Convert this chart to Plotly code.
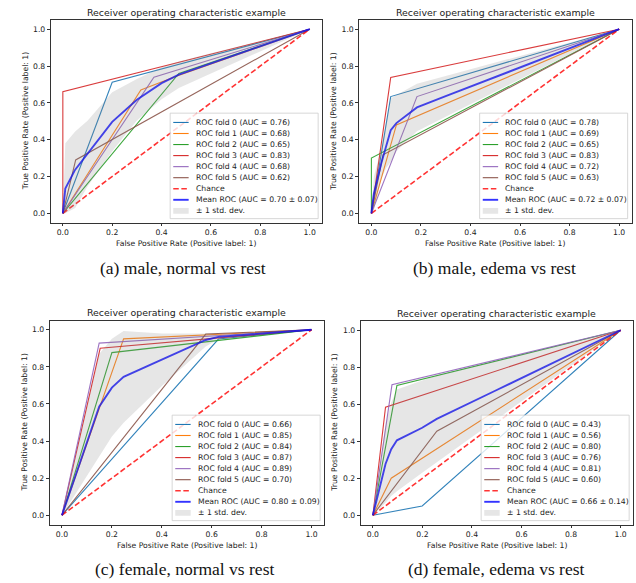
import plotly.graph_objects as go

W, H = 636, 583

# ---------------- data ----------------
fold_names = ["ROC fold 0", "ROC fold 1", "ROC fold 2", "ROC fold 3", "ROC fold 4", "ROC fold 5"]
fold_colors = ["#1f77b4", "#ff7f0e", "#2ca02c", "#d62728", "#9467bd", "#8c564b"]
chance_x = [0, 1]
chance_y = [0, 1]
tick_vals = [0, 0.2, 0.4, 0.6, 0.8, 1.0]
tick_text = ["0.0", "0.2", "0.4", "0.6", "0.8", "1.0"]

# (a) male, normal vs rest
a_fold_fpr = [[0, 0.2, 1], [0, 0.316, 0.46, 1], [0, 0.47, 1], [0, 0, 1], [0, 0.369, 1], [0, 0.052, 1]]
a_fold_tpr = [[0, 0.712, 1], [0, 0.67, 0.745, 1], [0, 0.76, 1], [0, 0.661, 1], [0, 0.739, 1], [0, 0.29, 1]]
a_auc = [0.76, 0.68, 0.65, 0.83, 0.68, 0.62]
a_mean_auc, a_std_auc = 0.70, 0.07
a_grid = [0, 0.01, 0.05, 0.1, 0.2, 0.3, 0.4, 0.47, 0.6, 0.8, 1.0]
a_mean = [0, 0.135, 0.237, 0.324, 0.497, 0.617, 0.707, 0.753, 0.814, 0.907, 1.0]
a_upper = [0, 0.38, 0.445, 0.503, 0.657, 0.73, 0.793, 0.825, 0.869, 0.934, 1.0]
a_lower = [0, 0, 0.029, 0.145, 0.337, 0.504, 0.62, 0.68, 0.759, 0.88, 1.0]

# (b) male, edema vs rest
b_fold_fpr = [[0, 0.078, 1], [0, 0.101, 1], [0, 0, 1], [0, 0.078, 1], [0, 0.184, 1], [0, 0.047, 1]]
b_fold_tpr = [[0, 0.634, 1], [0, 0.48, 1], [0, 0.30, 1], [0, 0.738, 1], [0, 0.634, 1], [0, 0.318, 1]]
b_auc = [0.78, 0.69, 0.65, 0.83, 0.72, 0.63]
b_mean_auc, b_std_auc = 0.72, 0.07
b_grid = [0, 0.01, 0.04, 0.06, 0.078, 0.101, 0.184, 0.3, 0.5, 0.75, 1.0]
b_mean = [0, 0.106, 0.272, 0.37, 0.451, 0.49, 0.575, 0.636, 0.74, 0.87, 1.0]
b_upper = [0, 0.198, 0.355, 0.492, 0.623, 0.643, 0.704, 0.746, 0.819, 0.91, 1.0]
b_lower = [0, 0.014, 0.188, 0.247, 0.279, 0.337, 0.446, 0.525, 0.661, 0.83, 1.0]

# (c) female, normal vs rest
c_fold_fpr = [[0, 0.627, 1], [0, 0.247, 1], [0, 0.2, 1], [0, 0.153, 1], [0, 0.149, 1], [0, 0.576, 1]]
c_fold_tpr = [[0, 0.95, 1], [0, 0.951, 1], [0, 0.877, 1], [0, 0.90, 1], [0, 0.928, 1], [0, 0.977, 1]]
c_auc = [0.66, 0.85, 0.84, 0.87, 0.89, 0.70]
c_mean_auc, c_std_auc = 0.80, 0.09
c_grid = [0, 0.01, 0.05, 0.1, 0.149, 0.2, 0.247, 0.4, 0.576, 0.627, 0.8, 1.0]
c_mean = [0, 0.04, 0.196, 0.393, 0.585, 0.688, 0.746, 0.839, 0.945, 0.962, 0.979, 1.0]
c_upper = [0, 0.058, 0.288, 0.576, 0.87, 0.952, 0.994, 0.98, 0.98, 0.975, 0.985, 1.0]
c_lower = [0, 0.021, 0.105, 0.209, 0.312, 0.424, 0.498, 0.697, 0.91, 0.949, 0.973, 1.0]

# (d) female, edema vs rest
d_fold_fpr = [[0, 0.199, 1], [0, 0.074, 1], [0, 0.097, 1], [0, 0.051, 1], [0, 0.077, 1], [0, 0.258, 1]]
d_fold_tpr = [[0, 0.05, 1], [0, 0.20, 1], [0, 0.701, 1], [0, 0.584, 1], [0, 0.705, 1], [0, 0.454, 1]]
d_auc = [0.43, 0.56, 0.80, 0.76, 0.81, 0.60]
d_mean_auc, d_std_auc = 0.66, 0.14
d_grid = [0, 0.01, 0.051, 0.074, 0.097, 0.199, 0.258, 0.5, 0.75, 1.0]
d_mean = [0, 0.055, 0.277, 0.357, 0.405, 0.473, 0.521, 0.677, 0.839, 1.0]
d_upper = [0, 0.096, 0.486, 0.609, 0.68, 0.729, 0.755, 0.835, 0.917, 1.0]
d_lower = [0, 0.013, 0.068, 0.104, 0.13, 0.23, 0.287, 0.52, 0.76, 1.0]

captions = ["(a) male, normal vs rest", "(b) male, edema vs rest",
            "(c) female, normal vs rest", "(d) female, edema vs rest"]
plot_title = "Receiver operating characteristic example"
x_title = "False Positive Rate (Positive label: 1)"
y_title = "True Positive Rate (Positive label: 1)"

# ---------------- layout geometry (pixels) ----------------
# frame: left, right, top, bottom
frames = [(50.5, 322.0, 20.0, 222.5), (359.0, 631.5, 20.0, 222.5),
          (49.5, 324.0, 320.5, 524.5), (360.5, 633.0, 321.0, 524.5)]
caption_pos = [(183, 268), (494, 268), (184, 569), (496, 569)]

panels = [
    (a_fold_fpr, a_fold_tpr, a_auc, a_mean_auc, a_std_auc, a_grid, a_mean, a_upper, a_lower),
    (b_fold_fpr, b_fold_tpr, b_auc, b_mean_auc, b_std_auc, b_grid, b_mean, b_upper, b_lower),
    (c_fold_fpr, c_fold_tpr, c_auc, c_mean_auc, c_std_auc, c_grid, c_mean, c_upper, c_lower),
    (d_fold_fpr, d_fold_tpr, d_auc, d_mean_auc, d_std_auc, d_grid, d_mean, d_upper, d_lower),
]

FONT = "DejaVu Sans"
TXT = "#222222"
FS = 7.7


def px(x):
    return x / W


def py(y):
    return 1 - y / H


fig = go.Figure()
annotations = []
shapes = []
layout_axes = {}

for i, (ffpr, ftpr, aucs, mauc, sauc, grid, mean, upper, lower) in enumerate(panels):
    n = "" if i == 0 else str(i + 1)
    xa, ya = "x" + n, "y" + n
    L, R, T, B = frames[i]

    for k in range(len(ffpr)):
        fig.add_trace(go.Scatter(x=ffpr[k], y=ftpr[k], mode="lines", xaxis=xa, yaxis=ya,
                                 line=dict(color=fold_colors[k], width=1.1), opacity=0.9,
                                 showlegend=False, hoverinfo="skip"))
    fig.add_trace(go.Scatter(x=chance_x, y=chance_y, mode="lines", xaxis=xa, yaxis=ya,
                             line=dict(color="rgba(255,0,0,0.8)", width=1.6, dash="5.5px,2.6px"),
                             showlegend=False, hoverinfo="skip"))
    fig.add_trace(go.Scatter(x=grid, y=mean, mode="lines", xaxis=xa, yaxis=ya,
                             line=dict(color="rgba(0,0,255,0.8)", width=1.9),
                             showlegend=False, hoverinfo="skip"))
    fig.add_trace(go.Scatter(x=grid, y=lower, mode="lines", xaxis=xa, yaxis=ya,
                             line=dict(width=0), showlegend=False, hoverinfo="skip"))
    fig.add_trace(go.Scatter(x=grid, y=upper, mode="lines", xaxis=xa, yaxis=ya, fill="tonexty",
                             fillcolor="rgba(128,128,128,0.2)", line=dict(width=0),
                             showlegend=False, hoverinfo="skip"))

    axis_common = dict(range=[-0.05, 1.05], tickvals=tick_vals, ticktext=tick_text,
                       ticks="outside", ticklen=2.8, tickwidth=0.7, tickcolor="#333",
                       showline=True, mirror=True, linecolor="#333", linewidth=0.8,
                       showgrid=False, zeroline=False,
                       tickfont=dict(family=FONT, size=FS, color=TXT), fixedrange=True)
    layout_axes["xaxis" + n] = dict(axis_common, domain=[px(L), px(R)], anchor=ya)
    layout_axes["yaxis" + n] = dict(axis_common, domain=[py(B), py(T)], anchor=xa)

    cx = (L + R) / 2
    cy = (T + B) / 2
    annotations.append(dict(text=plot_title, x=px(cx), y=py(T - 7.7), xref="paper", yref="paper",
                            showarrow=False, xanchor="center", yanchor="middle",
                            font=dict(family=FONT, size=9.4, color=TXT)))
    annotations.append(dict(text=x_title, x=px(cx), y=py(B + 20.5), xref="paper", yref="paper",
                            showarrow=False, xanchor="center", yanchor="middle",
                            font=dict(family=FONT, size=FS, color=TXT)))
    annotations.append(dict(text=y_title, x=px(L - 25.5), y=py(cy), xref="paper", yref="paper",
                            showarrow=False, xanchor="center", yanchor="middle", textangle=-90,
                            font=dict(family=FONT, size=FS, color=TXT)))
    cxp, cyp = caption_pos[i]
    annotations.append(dict(text=captions[i], x=px(cxp), y=py(cyp), xref="paper", yref="paper",
                            showarrow=False, xanchor="center", yanchor="middle",
                            font=dict(family="Liberation Serif", size=17.5, color="#111")))

    # legend box (drawn by hand, matplotlib-like)
    bw, bh = 148.0, 105.5
    bR = R - 3.85
    bB = B - 3.85
    bL = bR - bw
    bT = bB - bh
    shapes.append(dict(type="rect", xref="paper", yref="paper", x0=px(bL), x1=px(bR),
                       y0=py(bB), y1=py(bT), line=dict(color="#cccccc", width=0.8),
                       fillcolor="rgba(255,255,255,0.8)", layer="above"))
    labels = [f"{fold_names[k]} (AUC = {aucs[k]:.2f})" for k in range(6)]
    labels += ["Chance", f"Mean ROC (AUC = {mauc:.2f} ± {sauc:.2f})", "± 1 std. dev."]
    for r, lab in enumerate(labels):
        yc = bT + 9.3 + r * 11.05
        hx0, hx1 = bL + 3.1, bL + 18.5
        if r < 6:
            shapes.append(dict(type="line", xref="paper", yref="paper", x0=px(hx0), x1=px(hx1),
                               y0=py(yc), y1=py(yc), layer="above",
                               line=dict(color=fold_colors[r], width=1.1)))
        elif r == 6:
            shapes.append(dict(type="line", xref="paper", yref="paper", x0=px(hx0), x1=px(hx1),
                               y0=py(yc), y1=py(yc), layer="above",
                               line=dict(color="rgba(255,0,0,0.8)", width=1.6, dash="5.5px,2.6px")))
        elif r == 7:
            shapes.append(dict(type="line", xref="paper", yref="paper", x0=px(hx0), x1=px(hx1),
                               y0=py(yc), y1=py(yc), layer="above",
                               line=dict(color="rgba(0,0,255,0.8)", width=1.9)))
        else:
            shapes.append(dict(type="rect", xref="paper", yref="paper", x0=px(hx0), x1=px(hx1),
                               y0=py(yc + 2.9), y1=py(yc - 2.9), layer="above",
                               line=dict(width=0), fillcolor="rgba(128,128,128,0.2)"))
        annotations.append(dict(text=lab, x=px(bL + 23.7), y=py(yc), xref="paper", yref="paper",
                                showarrow=False, xanchor="left", yanchor="middle",
                                font=dict(family=FONT, size=FS, color=TXT)))

fig.update_layout(width=W, height=H, margin=dict(l=0, r=0, t=0, b=0),
                  paper_bgcolor="white", plot_bgcolor="white", showlegend=False,
                  annotations=annotations, shapes=shapes, **layout_axes)

fig.write_html("out.html", config={"displayModeBar": False},
               post_script="document.body.style.margin='0';document.body.style.overflow='hidden';")
